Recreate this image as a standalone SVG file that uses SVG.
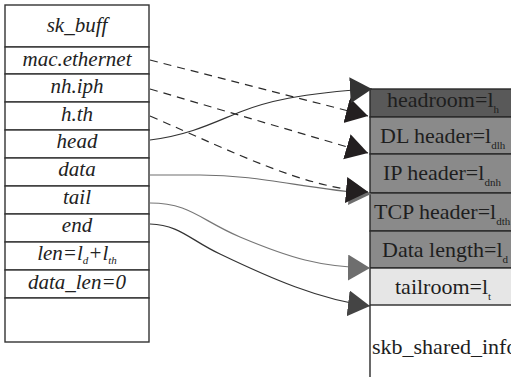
<svg xmlns="http://www.w3.org/2000/svg" width="511" height="377" viewBox="0 0 511 377">
<style>
.cell{fill:#fff;stroke:#333;stroke-width:1.4}
.lt{font-family:"Liberation Serif",serif;font-style:italic;font-size:21px;fill:#222;text-anchor:middle}
.rc{stroke:#2a2a2a;stroke-width:1.4}
.rt{font-family:"Liberation Serif",serif;font-size:22px;fill:#1e1e1e}
.sub{font-size:11px}
.dash{fill:none;stroke:#2a2a2a;stroke-width:1.2;stroke-dasharray:8 6}
.sol{fill:none;stroke-width:1.2}
</style>
<defs>
<marker id="aBlack" markerUnits="userSpaceOnUse" markerWidth="24" markerHeight="28" refX="22" refY="13" orient="auto"><path d="M0,0 L22,13 L0,26 Z" fill="#231f20"/></marker>
<marker id="aDark" markerUnits="userSpaceOnUse" markerWidth="24" markerHeight="28" refX="22" refY="13" orient="auto"><path d="M0,0 L22,13 L0,26 Z" fill="#333"/></marker>
<marker id="aEnd" markerUnits="userSpaceOnUse" markerWidth="24" markerHeight="28" refX="22" refY="13" orient="auto"><path d="M0,0 L22,13 L0,26 Z" fill="#444"/></marker>
<marker id="aGray" markerUnits="userSpaceOnUse" markerWidth="24" markerHeight="28" refX="22" refY="13" orient="auto"><path d="M0,0 L22,13 L0,26 Z" fill="#6e6e6e"/></marker>
</defs>
<rect width="511" height="377" fill="#fff"/>

<g id="sk_buff_table">
<g id="row-title"><rect class="cell" x="5" y="5" width="144" height="42"/><text class="lt" x="77" y="32">sk_buff</text></g>
<g id="row-mac"><rect class="cell" x="5" y="47" width="144" height="27"/><text class="lt" x="77" y="66">mac.ethernet</text></g>
<g id="row-nh"><rect class="cell" x="5" y="74" width="144" height="28"/><text class="lt" x="77" y="93">nh.iph</text></g>
<g id="row-h"><rect class="cell" x="5" y="102" width="144" height="28"/><text class="lt" x="77" y="121">h.th</text></g>
<g id="row-head"><rect class="cell" x="5" y="130" width="144" height="28"/><text class="lt" x="77" y="148">head</text></g>
<g id="row-data"><rect class="cell" x="5" y="158" width="144" height="28"/><text class="lt" x="77" y="176">data</text></g>
<g id="row-tail"><rect class="cell" x="5" y="186" width="144" height="28"/><text class="lt" x="77" y="204">tail</text></g>
<g id="row-end"><rect class="cell" x="5" y="214" width="144" height="28"/><text class="lt" x="77" y="232">end</text></g>
<g id="row-len"><rect class="cell" x="5" y="242" width="144" height="28"/><text class="lt" x="77" y="260">len=l<tspan class="sub" dy="4">d</tspan><tspan dy="-4">+l</tspan><tspan class="sub" dy="4">th</tspan></text></g>
<g id="row-datalen"><rect class="cell" x="5" y="270" width="144" height="28"/><text class="lt" x="77" y="289">data_len=0</text></g>
<g id="row-empty"><rect class="cell" x="5" y="298" width="144" height="44"/></g>
</g>

<g id="buffer">
<g id="headroom"><rect class="rc" x="370" y="89" width="150" height="28" fill="#595959"/><text class="rt" x="387" y="107">headroom=l<tspan class="sub" dy="6">h</tspan></text></g>
<g id="dl-header"><rect class="rc" x="370" y="117" width="150" height="37" fill="#8a8a8a"/><text class="rt" x="380" y="143">DL header=l<tspan class="sub" dy="6">dlh</tspan></text></g>
<g id="ip-header"><rect class="rc" x="370" y="154" width="150" height="39" fill="#8a8a8a"/><text class="rt" x="383" y="180">IP header=l<tspan class="sub" dy="6">dnh</tspan></text></g>
<g id="tcp-header"><rect class="rc" x="370" y="193" width="150" height="38" fill="#8a8a8a"/><text class="rt" x="374" y="219">TCP header=l<tspan class="sub" dy="6">dth</tspan></text></g>
<g id="data-length"><rect class="rc" x="370" y="231" width="150" height="37" fill="#8a8a8a"/><text class="rt" x="382" y="257">Data length=l<tspan class="sub" dy="6">d</tspan></text></g>
<g id="tailroom"><rect class="rc" x="370" y="268" width="150" height="37" fill="#e6e6e6"/><text class="rt" x="395" y="294">tailroom=l<tspan class="sub" dy="6">t</tspan></text></g>
<g id="shared-info"><line class="rc" x1="370" y1="305" x2="370" y2="377"/><text class="rt" x="372" y="354">skb_shared_info</text></g>
</g>

<g id="connectors">
<path class="dash" d="M150,60 L368,116" marker-end="url(#aBlack)"/>
<path class="dash" d="M150,89 L368,153" marker-end="url(#aBlack)"/>
<path class="sol" stroke="#6e6e6e" d="M150,175 L200,175 C260,175 300,188 371,194" marker-end="url(#aGray)"/>
<path class="dash" d="M150,116 C240,155 300,186 368,192" marker-end="url(#aBlack)"/>
<path class="sol" stroke="#333" d="M150,140 C190,135 215,122 240,112 C265,102 300,93 372,89" marker-end="url(#aDark)"/>
<path class="sol" stroke="#777" d="M150,203 C190,203 200,220 240,237 C290,258 320,267 370,268" marker-end="url(#aGray)"/>
<path class="sol" stroke="#333" d="M150,224 C180,225 190,240 220,254 C270,278 320,300 370,306" marker-end="url(#aEnd)"/>
</g>
</svg>
